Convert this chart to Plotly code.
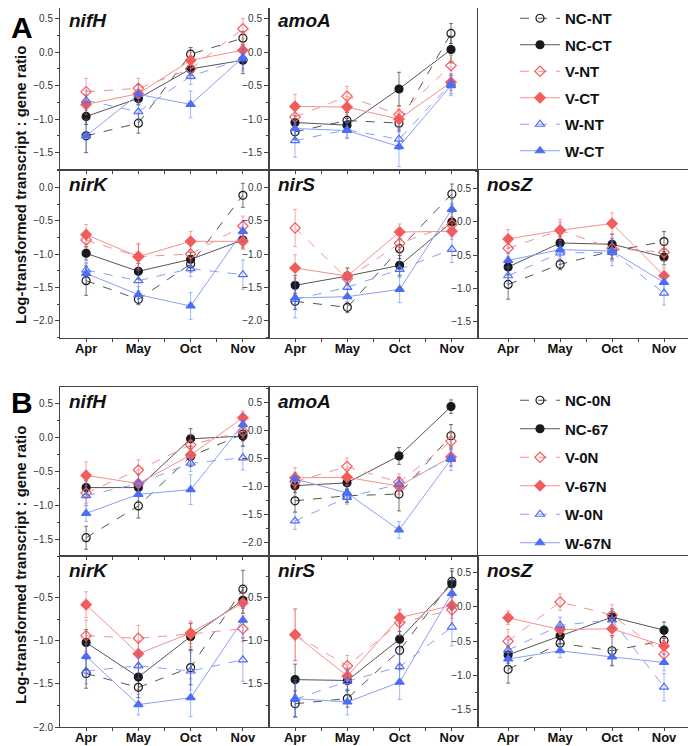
import plotly.graph_objects as go

W, H = 696, 746
# the page body keeps its default 8 px margin, so the figure sits 8 px in from the top-left
OFFSET = 8

months = ["Apr", "May", "Oct", "Nov"]
series_A = ["NC-NT", "NC-CT", "V-NT", "V-CT", "W-NT", "W-CT"]
series_B = ["NC-0N", "NC-67", "V-0N", "V-67N", "W-0N", "W-67N"]

# values per subplot, rows follow the series order above
A_nifH = [[-1.25, -1.06, -0.03, 0.21], [-0.96, -0.69, -0.25, -0.12], [-0.59, -0.54, -0.25, 0.35],
          [-0.78, -0.62, -0.12, 0.03], [-0.72, -0.89, -0.36, -0.10], [-1.25, -0.63, -0.78, -0.08]]
A_nifH_err = [[0.25, 0.15, 0.10, 0.10], [0.12, 0.10, 0.10, 0.20], [0.20, 0.15, 0.15, 0.15],
              [0.15, 0.12, 0.12, 0.12], [0.15, 0.12, 0.12, 0.15], [0.25, 0.15, 0.20, 0.20]]
A_amoA = [[-1.19, -1.02, -1.06, 0.28], [-1.05, -1.09, -0.55, 0.04], [-0.97, -0.66, -0.93, -0.20],
          [-0.81, -0.82, -1.00, -0.45], [-1.32, -1.16, -1.30, -0.47], [-1.14, -1.17, -1.41, -0.50]]
A_amoA_err = [[0.12, 0.12, 0.12, 0.15], [0.10, 0.10, 0.25, 0.20], [0.15, 0.15, 0.12, 0.15],
              [0.18, 0.12, 0.15, 0.12], [0.25, 0.12, 0.15, 0.15], [0.15, 0.12, 0.30, 0.15]]
A_nirK = [[-1.40, -1.68, -1.15, -0.12], [-0.99, -1.26, -1.08, -0.79], [-0.79, -1.04, -1.00, -0.58],
          [-0.71, -1.04, -0.81, -0.81], [-1.24, -1.40, -1.22, -1.31], [-1.29, -1.61, -1.78, -0.66]]
A_nirK_err = [[0.22, 0.08, 0.12, 0.18], [0.10, 0.12, 0.10, 0.12], [0.12, 0.18, 0.15, 0.15],
              [0.15, 0.20, 0.15, 0.12], [0.12, 0.15, 0.12, 0.22], [0.15, 0.12, 0.20, 0.15]]
A_nirS = [[-1.71, -1.80, -0.92, -0.10], [-1.47, -1.33, -1.17, -0.52], [-0.61, -1.37, -0.84, -0.56],
          [-1.21, -1.33, -0.67, -0.66], [-1.68, -1.50, -1.23, -0.93], [-1.66, -1.64, -1.53, -0.33]]
A_nirS_err = [[0.12, 0.08, 0.15, 0.15], [0.15, 0.12, 0.15, 0.15], [0.28, 0.10, 0.15, 0.12],
              [0.20, 0.12, 0.12, 0.12], [0.15, 0.12, 0.12, 0.20], [0.30, 0.12, 0.20, 0.15]]
A_nosZ = [[-0.94, -0.64, -0.44, -0.30], [-0.68, -0.32, -0.34, -0.53], [-0.40, -0.13, -0.40, -0.46],
          [-0.26, -0.13, -0.03, -0.81], [-0.81, -0.47, -0.46, -1.07], [-0.58, -0.42, -0.44, -0.91]]
A_nosZ_err = [[0.22, 0.08, 0.12, 0.15], [0.12, 0.10, 0.15, 0.12], [0.12, 0.12, 0.15, 0.12],
              [0.14, 0.16, 0.16, 0.12], [0.12, 0.12, 0.20, 0.18], [0.10, 0.10, 0.15, 0.12]]

B_nifH = [[-1.48, -1.01, -0.28, 0.05], [-0.74, -0.74, -0.02, 0.02], [-0.82, -0.48, -0.11, 0.09],
          [-0.56, -0.68, -0.26, 0.29], [-0.86, -0.68, -0.38, -0.30], [-1.12, -0.84, -0.77, 0.19]]
B_nifH_err = [[0.17, 0.18, 0.15, 0.10], [0.10, 0.10, 0.15, 0.15], [0.15, 0.15, 0.15, 0.10],
              [0.20, 0.15, 0.12, 0.10], [0.15, 0.12, 0.12, 0.18], [0.12, 0.10, 0.22, 0.15]]
B_amoA = [[-1.26, -1.17, -1.14, -0.10], [-0.99, -0.94, -0.46, 0.42], [-0.92, -0.65, -0.93, -0.20],
          [-0.85, -0.84, -1.00, -0.48], [-1.62, -1.20, -0.96, -0.50], [-0.87, -1.12, -1.78, -0.52]]
B_amoA_err = [[0.20, 0.12, 0.30, 0.20], [0.12, 0.12, 0.15, 0.12], [0.15, 0.15, 0.15, 0.15],
              [0.18, 0.15, 0.15, 0.15], [0.15, 0.12, 0.12, 0.15], [0.12, 0.15, 0.15, 0.20]]
B_nirK = [[-1.38, -1.54, -1.31, -0.40], [-1.02, -1.42, -0.95, -0.53], [-0.94, -0.97, -0.92, -0.86],
          [-0.58, -1.15, -0.91, -0.56], [-1.35, -1.29, -1.35, -1.22], [-1.18, -1.74, -1.66, -0.76]]
B_nirK_err = [[0.17, 0.12, 0.20, 0.22], [0.15, 0.15, 0.15, 0.15], [0.18, 0.15, 0.15, 0.15],
              [0.15, 0.15, 0.12, 0.12], [0.15, 0.15, 0.22, 0.25], [0.15, 0.12, 0.22, 0.20]]
B_nirS = [[-1.73, -1.67, -1.11, -0.31], [-1.45, -1.46, -0.98, -0.34], [-0.93, -1.29, -0.79, -0.64],
          [-0.93, -1.41, -0.73, -0.59], [-1.68, -1.47, -1.30, -0.84], [-1.67, -1.71, -1.48, -0.45]]
B_nirS_err = [[0.15, 0.10, 0.22, 0.15], [0.18, 0.12, 0.18, 0.15], [0.30, 0.12, 0.15, 0.15],
              [0.30, 0.10, 0.10, 0.15], [0.20, 0.15, 0.20, 0.22], [0.22, 0.15, 0.20, 0.15]]
B_nosZ = [[-0.91, -0.53, -0.64, -0.49], [-0.70, -0.42, -0.15, -0.34], [-0.50, 0.07, -0.12, -0.69],
          [-0.16, -0.33, -0.32, -0.57], [-0.63, -0.27, -0.19, -1.17], [-0.76, -0.64, -0.73, -0.81]]
B_nosZ_err = [[0.20, 0.12, 0.22, 0.12], [0.12, 0.12, 0.12, 0.12], [0.17, 0.12, 0.15, 0.12],
              [0.10, 0.12, 0.12, 0.12], [0.15, 0.12, 0.12, 0.20], [0.10, 0.10, 0.12, 0.12]]

# styling per series
mk_symbol = ["circle-open", "circle", "diamond-open", "diamond", "triangle-up-open", "triangle-up"]
mk_color = ["#1a1a1a", "#1a1a1a", "#f45c5c", "#f45c5c", "#4d6df5", "#4d6df5"]
ln_color = ["#555555", "#555555", "#f59090", "#f59090", "#8c9ff5", "#8c9ff5"]
err_color = ["rgba(60,60,60,0.7)", "rgba(60,60,60,0.7)", "rgba(244,92,92,0.55)",
             "rgba(244,92,92,0.55)", "rgba(77,109,245,0.5)", "rgba(77,109,245,0.5)"]
dashes = ["dash", "solid", "dash", "solid", "dash", "solid"]

FONT = "Liberation Sans, Arial, sans-serif"

# screen pixel -> paper coordinate
def px_x(p):
    return (p - OFFSET) / W

def px_y(p):
    return 1 - (p - OFFSET) / H

# (gene, values, errors, x px range, y px range, y range, panel, bottom row)
panels = [
    ("nifH", A_nifH, A_nifH_err, (60, 269), (2, 170), [-1.76, 0.75], "A", False),
    ("amoA", A_amoA, A_amoA_err, (269, 477), (2, 170), [-1.76, 0.75], "A", False),
    ("nirK", A_nirK, A_nirK_err, (60, 269), (170, 338), [-2.26, 0.26], "A", True),
    ("nirS", A_nirS, A_nirS_err, (269, 478), (170, 338), [-2.26, 0.26], "A", True),
    ("nosZ", A_nosZ, A_nosZ_err, (478, 690), (170, 338), [-1.74, 0.77], "A", True),
    ("nifH", B_nifH, B_nifH_err, (60, 269), (387, 556), [-1.75, 0.745], "B", False),
    ("amoA", B_amoA, B_amoA_err, (269, 477), (387, 556), [-2.245, 0.77], "B", False),
    ("nirK", B_nirK, B_nirK_err, (60, 269), (556, 727), [-2.0, -0.015], "B", True),
    ("nirS", B_nirS, B_nirS_err, (269, 478), (556, 727), [-2.0, -0.015], "B", True),
    ("nosZ", B_nosZ, B_nosZ_err, (478, 690), (556, 727), [-1.75, 0.74], "B", True),
]

xpos = list(range(len(months)))

fig = go.Figure()
layout = {}
annotations = []

for i, (gene, vals, errs, xr, yr, yrange, panel, bottom) in enumerate(panels):
    n = i + 1
    xa = "x" if n == 1 else f"x{n}"
    ya = "y" if n == 1 else f"y{n}"
    names = series_A if panel == "A" else series_B
    first = gene == "nifH"
    # the figure cannot start above the page margin: trim the range so the scale stays the same
    top_px, bot_px = yr
    lo, hi = yrange
    if top_px < OFFSET:
        per_px = (hi - lo) / (bot_px - top_px)
        hi -= (OFFSET - top_px) * per_px
        top_px = OFFSET
    for s in range(6):
        fig.add_trace(go.Scatter(
            x=xpos, y=vals[s], xaxis=xa, yaxis=ya,
            mode="lines+markers", name=names[s],
            legend="legend" if panel == "A" else "legend2",
            legendgroup=panel + names[s], showlegend=first,
            line=dict(color=ln_color[s], width=1, dash=dashes[s]),
            marker=dict(symbol=mk_symbol[s], size=8, color=mk_color[s],
                        line=dict(color=mk_color[s], width=1.2)),
            error_y=dict(type="data", array=errs[s], color=err_color[s],
                         thickness=1, width=2),
        ))
    # x-range: nosZ axis starts a little further left of Apr
    x0 = -0.58 if gene == "nosZ" else -0.5
    layout["xaxis" if n == 1 else f"xaxis{n}"] = dict(
        domain=[px_x(xr[0]), px_x(xr[1])], anchor=ya, range=[x0, 3.5],
        tickvals=xpos, ticktext=months, showticklabels=bottom,
        ticks="outside", ticklen=3, tickcolor="#444", ticklabelstandoff=-5,
        minor=dict(tickvals=[0.5, 1.5, 2.5], ticks="outside", ticklen=3, tickcolor="#444"),
        showline=True, linecolor="#444", linewidth=1, mirror=True,
        showgrid=False, zeroline=False, fixedrange=True,
        tickfont=dict(family=FONT, size=13, color="#111", weight="bold"),
    )
    # nirS in panel B shows no label at its bottom edge
    ytick = dict(tickvals=[-1.5, -1.0, -0.5]) if (panel == "B" and gene == "nirS") else dict(dtick=0.5, tick0=0)
    layout["yaxis" if n == 1 else f"yaxis{n}"] = dict(
        domain=[px_y(bot_px), px_y(top_px)], anchor=xa, range=[lo, hi],
        tickformat=".1f", **ytick,
        ticks="outside", ticklen=4, tickcolor="#444",
        minor=dict(dtick=0.25, tick0=0, ticks="outside", ticklen=2, tickcolor="#444"),
        showline=True, linecolor="#444", linewidth=1, mirror=True,
        showgrid=False, zeroline=False, fixedrange=True,
        tickfont=dict(family=FONT, size=10, color="#333"),
    )
    annotations.append(dict(
        text=f"<b><i>{gene}</i></b>", xref="paper", yref="paper",
        x=px_x(xr[0] + 7), y=px_y(max(yr[0] + 2, OFFSET)), xanchor="left", yanchor="top",
        showarrow=False, font=dict(family=FONT, size=19, color="#111"),
    ))

for label, yc in [("A", 27), ("B", 402)]:
    annotations.append(dict(
        text=f"<b>{label}</b>", xref="paper", yref="paper", x=px_x(22), y=px_y(yc),
        xanchor="center", yanchor="middle", showarrow=False,
        font=dict(family=FONT, size=30, color="#000"),
    ))

for yc in [185, 565]:
    annotations.append(dict(
        text="<b>Log-transformed transcript : gene ratio</b>", xref="paper", yref="paper",
        x=px_x(20), y=px_y(yc), xanchor="center", yanchor="middle", textangle=-90,
        showarrow=False, font=dict(family=FONT, size=15, color="#111"),
    ))

legend_style = dict(
    xanchor="left", yanchor="top", bgcolor="rgba(0,0,0,0)",
    font=dict(family=FONT, size=15, color="#111", weight="bold"),
    itemwidth=40, itemclick=False, itemdoubleclick=False,
)

fig.update_layout(
    width=W, height=H, margin=dict(l=0, r=0, t=0, b=0, autoexpand=False),
    paper_bgcolor="white", plot_bgcolor="white",
    annotations=annotations,
    legend=dict(x=px_x(515), y=px_y(2), tracegroupgap=4, **legend_style),
    legend2=dict(x=px_x(515), y=px_y(384), tracegroupgap=6, **legend_style),
    **layout,
)

fig.write_html("out.html")
